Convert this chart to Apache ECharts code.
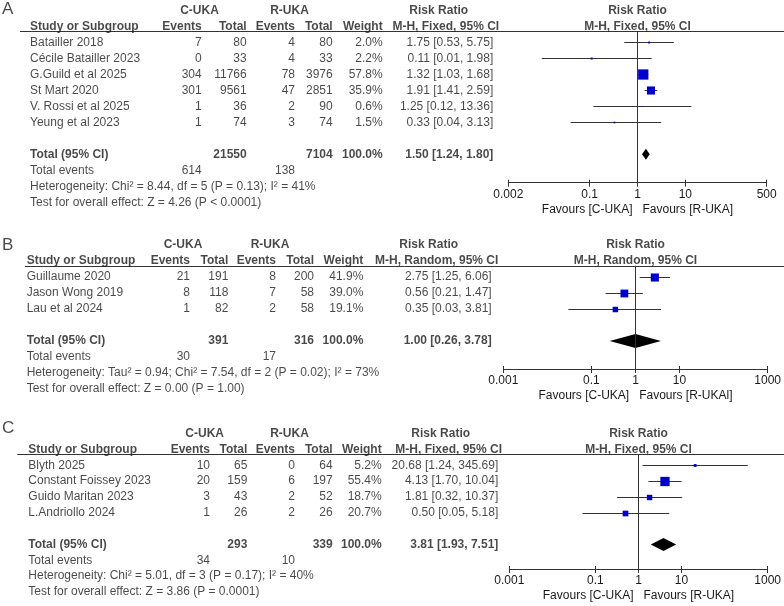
<!DOCTYPE html>
<html lang="en">
<head>
<meta charset="UTF-8">
<title>C-UKA vs R-UKA forest plots</title>
<script src="https://cdn.jsdelivr.net/npm/echarts@6/dist/echarts.min.js"></script>
</head>
<body style="margin:0">
<div id="myChart" style="width:784px;height:606px;"></div>
<script>
// ---- panel A ----
var studiesA = ['Batailler 2018', 'Cécile Batailler 2023', 'G.Guild et al 2025', 'St Mart 2020', 'V. Rossi et al 2025', 'Yeung et al 2023'];
var cEventsA = [7, 0, 304, 301, 1, 1];
var cTotalA = [80, 33, 11766, 9561, 36, 74];
var rEventsA = [4, 4, 78, 47, 2, 3];
var rTotalA = [80, 33, 3976, 2851, 90, 74];
var weightA = [2.0, 2.2, 57.8, 35.9, 0.6, 1.5];
var rrA = [1.75, 0.11, 1.32, 1.91, 1.25, 0.33];
var loA = [0.53, 0.01, 1.03, 1.41, 0.12, 0.04];
var hiA = [5.75, 1.98, 1.68, 2.59, 13.36, 3.13];
var totalA = [21550, 7104, 614, 138];      // C total, R total, C events, R events
var pooledA = [1.50, 1.24, 1.80];
var notesA = ['Heterogeneity: Chi² = 8.44, df = 5 (P = 0.13); I² = 41%', 'Test for overall effect: Z = 4.26 (P < 0.0001)'];
var ticksA = [0.002, 0.1, 1, 10, 500];
var favoursA = ['Favours [C-UKA]', 'Favours [R-UKA]'];

// ---- panel B ----
var studiesB = ['Guillaume 2020', 'Jason Wong 2019', 'Lau et al 2024'];
var cEventsB = [21, 8, 1];
var cTotalB = [191, 118, 82];
var rEventsB = [8, 7, 2];
var rTotalB = [200, 58, 58];
var weightB = [41.9, 39.0, 19.1];
var rrB = [2.75, 0.56, 0.35];
var loB = [1.25, 0.21, 0.03];
var hiB = [6.06, 1.47, 3.81];
var totalB = [391, 316, 30, 17];
var pooledB = [1.00, 0.26, 3.78];
var notesB = ['Heterogeneity: Tau² = 0.94; Chi² = 7.54, df = 2 (P = 0.02); I² = 73%', 'Test for overall effect: Z = 0.00 (P = 1.00)'];
var ticksB = [0.001, 0.1, 1, 10, 1000];
var favoursB = ['Favours [C-UKA]', 'Favours [R-UKAl]'];

// ---- panel C ----
var studiesC = ['Blyth 2025', 'Constant Foissey 2023', 'Guido Maritan 2023', 'L.Andriollo 2024'];
var cEventsC = [10, 20, 3, 1];
var cTotalC = [65, 159, 43, 26];
var rEventsC = [0, 6, 2, 2];
var rTotalC = [64, 197, 52, 26];
var weightC = [5.2, 55.4, 18.7, 20.7];
var rrC = [20.68, 4.13, 1.81, 0.50];
var loC = [1.24, 1.70, 0.32, 0.05];
var hiC = [345.69, 10.04, 10.37, 5.18];
var totalC = [293, 339, 34, 10];
var pooledC = [3.81, 1.93, 7.51];
var notesC = ['Heterogeneity: Chi² = 5.01, df = 3 (P = 0.17); I² = 40%', 'Test for overall effect: Z = 3.86 (P = 0.0001)'];
var ticksC = [0.001, 0.1, 1, 10, 1000];
var favoursC = ['Favours [C-UKA]', 'Favours [R-UKA]'];

var FONT = '"Liberation Sans", Arial, sans-serif';
var INK = '#1a1a1a';
var BOX = '#0000cc';

var panels = [
    {letter: 'A', method: 'M-H, Fixed, 95% CI', studies: studiesA, cEv: cEventsA, cTot: cTotalA, rEv: rEventsA, rTot: rTotalA,
     w: weightA, rr: rrA, lo: loA, hi: hiA, total: totalA, pooled: pooledA, notes: notesA, ticks: ticksA, favours: favoursA,
     lay: {row0: 42.3, rowH: 16, ruleY: 31, axisY: 182.7, plotL: 508.3, plotR: 766.7, ruleX: 20, letterRow: -2.05, box: 1.35, dia: 5.5,
           study: 30, cEv: 201.7, cTot: 246.7, rEv: 295, rTot: 332.7, wt: 382.7, rr: 493.3, grpC: 199.5, grpR: 289.5, head1: 438.7, head2: 445.8}},
    {letter: 'B', method: 'M-H, Random, 95% CI', studies: studiesB, cEv: cEventsB, cTot: cTotalB, rEv: rEventsB, rTot: rTotalB,
     w: weightB, rr: rrB, lo: loB, hi: hiB, total: totalB, pooled: pooledB, notes: notesB, ticks: ticksB, favours: favoursB,
     lay: {row0: 277, rowH: 16, ruleY: 265.7, axisY: 369, plotL: 503.3, plotR: 772.7, ruleX: 25, letterRow: -1.95, box: 1.25, dia: 7,
           study: 26.7, cEv: 190, cTot: 228.3, rEv: 276, rTot: 314, wt: 363.3, rr: 491.7, grpC: 183, grpR: 270, head1: 428.7, head2: 436.7}},
    {letter: 'C', method: 'M-H, Fixed, 95% CI', studies: studiesC, cEv: cEventsC, cTot: cTotalC, rEv: rEventsC, rTot: rTotalC,
     w: weightC, rr: rrC, lo: loC, hi: hiC, total: totalC, pooled: pooledC, notes: notesC, ticks: ticksC, favours: favoursC,
     lay: {row0: 465.2, rowH: 15.85, ruleY: 454.3, axisY: 569, plotL: 509.3, plotR: 772.7, ruleX: 17.3, letterRow: -2.35, box: 1.25, dia: 6.5,
           study: 28.3, cEv: 210, cTot: 247.3, rEv: 295, rTot: 332.7, wt: 381.7, rr: 498.3, grpC: 204.7, grpR: 289.5, head1: 440.7, head2: 448.7}}
];

function ciText(r, l, h) {
    return r.toFixed(2) + ' [' + l.toFixed(2) + ', ' + h.toFixed(2) + ']';
}

// one text item for the scatter label series
function txt(x, row, s, align, bold, size) {
    return {
        value: [x, row],
        name: s,
        label: {align: align, fontWeight: bold ? 'bold' : 'normal', fontSize: size || 12}
    };
}

var grids = [], xAxes = [], yAxes = [], series = [], graphics = [];

panels.forEach(function (p) {
    var L = p.lay;
    var n = p.studies.length;
    var yMin = (L.ruleY - L.row0) / L.rowH;
    var yMax = (L.axisY - L.row0) / L.rowH;
    var top = L.ruleY, height = L.axisY - L.ruleY;

    // table grid: x in page pixels, y in rows
    grids.push({left: 0, width: 784, top: top, height: height});
    var gT = grids.length - 1;
    xAxes.push({gridIndex: gT, type: 'value', min: 0, max: 784, show: false});
    var xT = xAxes.length - 1;
    yAxes.push({gridIndex: gT, type: 'value', min: yMin, max: yMax, inverse: true, show: false});
    var yT = yAxes.length - 1;

    // plot grid: log risk ratio
    grids.push({left: L.plotL, width: L.plotR - L.plotL, top: top, height: height});
    var gP = grids.length - 1;
    var lo = p.ticks[0], hi = p.ticks[p.ticks.length - 1];
    xAxes.push({
        gridIndex: gP, type: 'log', min: lo, max: hi, position: 'bottom',
        axisLine: {show: true, onZero: false, lineStyle: {color: '#333', width: 1}},
        axisTick: {show: true, length: 4, customValues: p.ticks, lineStyle: {color: '#333'}},
        axisLabel: {
            customValues: p.ticks, margin: 6, color: INK, fontFamily: FONT, fontSize: 12,
            formatter: function (v) {
                for (var i = 0; i < p.ticks.length; i++) {
                    if (Math.abs(Math.log10(p.ticks[i] / v)) < 1e-6) return String(p.ticks[i]);
                }
                return '';
            }
        },
        splitLine: {show: false},
        name: p.favours[0] + '   ' + p.favours[1],
        nameLocation: 'middle', nameGap: 21,
        nameTextStyle: {color: INK, fontFamily: FONT, fontSize: 12}
    });
    var xP = xAxes.length - 1;
    // upward half of the crossing ticks
    xAxes.push({
        gridIndex: gP, type: 'log', min: lo, max: hi, position: 'bottom', offset: 0,
        axisLine: {show: false, onZero: false},
        axisTick: {show: true, inside: true, length: 3, customValues: p.ticks, lineStyle: {color: '#333'}},
        axisLabel: {show: false}, splitLine: {show: false}
    });
    yAxes.push({gridIndex: gP, type: 'value', min: yMin, max: yMax, inverse: true, show: false});
    var yP = yAxes.length - 1;

    // table text
    var items = [];
    items.push(txt(2, L.letterRow, p.letter, 'left', false, 17));
    items.push(txt(L.grpC, -2, 'C-UKA', 'center', true));
    items.push(txt(L.grpR, -2, 'R-UKA', 'center', true));
    items.push(txt(L.head1, -2, 'Risk Ratio', 'center', true));
    items.push(txt(L.study, -1, 'Study or Subgroup', 'left', true));
    items.push(txt(L.cEv, -1, 'Events', 'right', true));
    items.push(txt(L.cTot, -1, 'Total', 'right', true));
    items.push(txt(L.rEv, -1, 'Events', 'right', true));
    items.push(txt(L.rTot, -1, 'Total', 'right', true));
    items.push(txt(L.wt, -1, 'Weight', 'right', true));
    items.push(txt(L.head2, -1, p.method, 'center', true));
    for (var i = 0; i < n; i++) {
        items.push(txt(L.study, i, p.studies[i], 'left'));
        items.push(txt(L.cEv, i, String(p.cEv[i]), 'right'));
        items.push(txt(L.cTot, i, String(p.cTot[i]), 'right'));
        items.push(txt(L.rEv, i, String(p.rEv[i]), 'right'));
        items.push(txt(L.rTot, i, String(p.rTot[i]), 'right'));
        items.push(txt(L.wt, i, p.w[i].toFixed(1) + '%', 'right'));
        items.push(txt(L.rr, i, ciText(p.rr[i], p.lo[i], p.hi[i]), 'right'));
    }
    var t = n + 1;
    items.push(txt(L.study, t, 'Total (95% CI)', 'left', true));
    items.push(txt(L.cTot, t, String(p.total[0]), 'right', true));
    items.push(txt(L.rTot, t, String(p.total[1]), 'right', true));
    items.push(txt(L.wt, t, '100.0%', 'right', true));
    items.push(txt(L.rr, t, ciText(p.pooled[0], p.pooled[1], p.pooled[2]), 'right', true));
    items.push(txt(L.study, t + 1, 'Total events', 'left'));
    items.push(txt(L.cEv, t + 1, String(p.total[2]), 'right'));
    items.push(txt(L.rEv, t + 1, String(p.total[3]), 'right'));
    items.push(txt(L.study, t + 2, p.notes[0], 'left'));
    items.push(txt(L.study, t + 3, p.notes[1], 'left'));

    series.push({
        type: 'scatter', xAxisIndex: xT, yAxisIndex: yT, symbolSize: 0, clip: false, silent: true,
        data: items,
        label: {show: true, position: [0, 0], verticalAlign: 'middle', color: INK, fontFamily: FONT, formatter: '{b}'}
    });

    // plot column headers, centred on RR = 1
    series.push({
        type: 'scatter', xAxisIndex: xP, yAxisIndex: yP, symbolSize: 0, clip: false, silent: true,
        data: [{value: [1, -2], name: 'Risk Ratio'}, {value: [1, -1], name: p.method}],
        label: {show: true, position: [0, 0], align: 'center', verticalAlign: 'middle', color: INK,
                fontFamily: FONT, fontSize: 12, fontWeight: 'bold', formatter: '{b}'}
    });

    // study boxes and CI whiskers
    var studyData = [];
    for (var j = 0; j < n; j++) studyData.push([p.rr[j], p.lo[j], p.hi[j], j, p.w[j]]);
    series.push({
        type: 'custom', xAxisIndex: xP, yAxisIndex: yP, silent: true, clip: false,
        data: studyData,
        renderItem: function (params, api) {
            var row = api.value(3);
            var a = api.coord([api.value(1), row]);
            var b = api.coord([api.value(2), row]);
            var c = api.coord([api.value(0), row]);
            var y = Math.round(c[1]) + 0.5;
            var s = L.box * Math.sqrt(api.value(4));
            return {type: 'group', children: [
                {type: 'line', shape: {x1: a[0], y1: y, x2: b[0], y2: y}, style: {stroke: '#333', lineWidth: 1}},
                {type: 'rect', shape: {x: c[0] - s / 2, y: y - s / 2, width: s, height: s}, style: {fill: BOX}}
            ]};
        },
        markLine: {
            silent: true, symbol: 'none', label: {show: false},
            lineStyle: {color: '#333', type: 'solid', width: 1},
            data: [{xAxis: 1}]
        }
    });

    // pooled diamond
    series.push({
        type: 'custom', xAxisIndex: xP, yAxisIndex: yP, silent: true, clip: false,
        data: [[p.pooled[0], p.pooled[1], p.pooled[2], t]],
        renderItem: function (params, api) {
            var row = api.value(3);
            var m = api.coord([api.value(0), row]);
            var a = api.coord([api.value(1), row]);
            var b = api.coord([api.value(2), row]);
            var h = L.dia;
            return {type: 'polygon', shape: {points: [[a[0], m[1]], [m[0], m[1] - h], [b[0], m[1]], [m[0], m[1] + h]]},
                    style: {fill: '#000'}};
        }
    });

    // header rule
    graphics.push({type: 'line', shape: {x1: L.ruleX, y1: Math.round(L.ruleY) + 0.5, x2: 784, y2: Math.round(L.ruleY) + 0.5},
                   style: {stroke: '#333', lineWidth: 1}, silent: true});
});

var myChart = echarts.init(document.getElementById('myChart'));
var option = {
    backgroundColor: '#fff',
    animation: false,
    textStyle: {fontFamily: FONT},
    grid: grids,
    xAxis: xAxes,
    yAxis: yAxes,
    series: series,
    graphic: graphics
};
myChart.setOption(option);
</script>
</body>
</html>
